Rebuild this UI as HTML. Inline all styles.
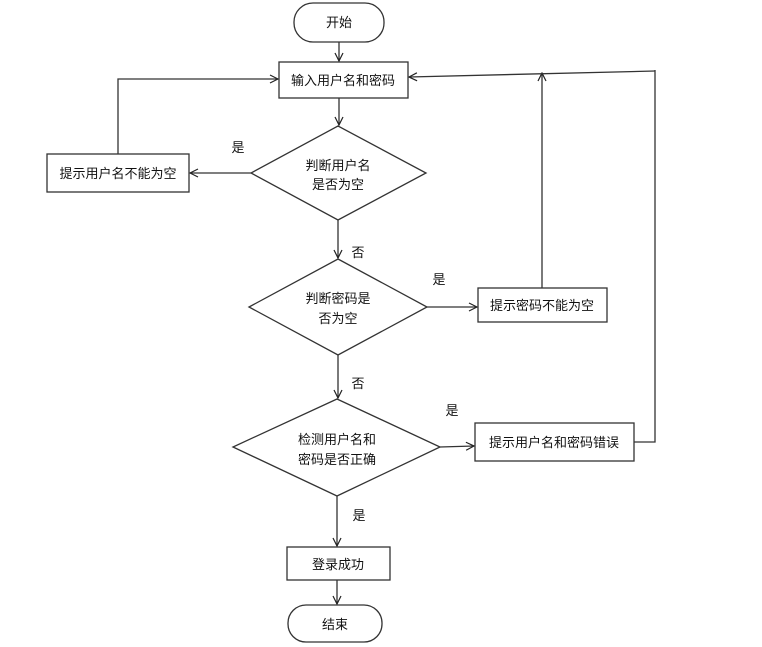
<!DOCTYPE html>
<html><head><meta charset="utf-8"><style>
html,body{margin:0;padding:0;background:#fff;}
svg{display:block;}
text{font-family:"Liberation Sans","Noto Sans CJK SC",sans-serif;font-size:13px;fill:#111;}
</style></head><body>
<svg width="762" height="647" viewBox="0 0 762 647" xmlns="http://www.w3.org/2000/svg">
<defs>
<marker id="a" markerWidth="10" markerHeight="10" refX="9" refY="5" orient="auto" markerUnits="userSpaceOnUse">
<path d="M1,1 L9,5 L1,9" fill="none" stroke="#222" stroke-width="1.2"/>
</marker>
</defs>
<g stroke="#333" stroke-width="1.3" fill="#fff">
<rect x="294" y="3" width="90" height="39" rx="19"/>
<rect x="279" y="62" width="129" height="36"/>
<polygon points="338,126 426,173 338,220 251,173"/>
<rect x="47" y="154" width="142" height="38"/>
<polygon points="338,259 427,307 338,355 249,307"/>
<rect x="478" y="288" width="129" height="34"/>
<polygon points="337,399 440,447 337,496 233,447"/>
<rect x="475" y="423" width="159" height="38"/>
<rect x="287" y="547" width="103" height="33"/>
<rect x="288" y="605" width="94" height="37" rx="18"/>
</g>
<g stroke="#333" stroke-width="1.3" fill="none">
<line x1="339" y1="42" x2="339" y2="61" marker-end="url(#a)"/>
<line x1="339" y1="98" x2="339" y2="125" marker-end="url(#a)"/>
<line x1="251" y1="173" x2="190" y2="173" marker-end="url(#a)"/>
<polyline points="118,154 118,79 278,79" marker-end="url(#a)"/>
<line x1="338" y1="220" x2="338" y2="258" marker-end="url(#a)"/>
<line x1="427" y1="307" x2="477" y2="307" marker-end="url(#a)"/>
<line x1="542" y1="288" x2="542" y2="73" marker-end="url(#a)"/>
<line x1="338" y1="355" x2="338" y2="398" marker-end="url(#a)"/>
<line x1="440" y1="447" x2="474" y2="446" marker-end="url(#a)"/>
<polyline points="634,442 655,442 655,70"/>
<line x1="655" y1="71" x2="409" y2="77" marker-end="url(#a)"/>
<line x1="337" y1="496" x2="337" y2="546" marker-end="url(#a)"/>
<line x1="337" y1="580" x2="337" y2="604" marker-end="url(#a)"/>
</g>
<g text-anchor="middle">
<text x="339" y="27">开始</text>
<text x="343" y="85">输入用户名和密码</text>
<text x="338" y="170">判断用户名</text>
<text x="338" y="189">是否为空</text>
<text x="118" y="178">提示用户名不能为空</text>
<text x="338" y="303">判断密码是</text>
<text x="338" y="323">否为空</text>
<text x="542" y="310">提示密码不能为空</text>
<text x="337" y="444">检测用户名和</text>
<text x="337" y="464">密码是否正确</text>
<text x="554" y="447">提示用户名和密码错误</text>
<text x="338" y="569">登录成功</text>
<text x="335" y="629">结束</text>
<text x="238" y="152">是</text>
<text x="358" y="257">否</text>
<text x="439" y="284">是</text>
<text x="358" y="388">否</text>
<text x="452" y="415">是</text>
<text x="359" y="520">是</text>
</g>
</svg>
</body></html>
